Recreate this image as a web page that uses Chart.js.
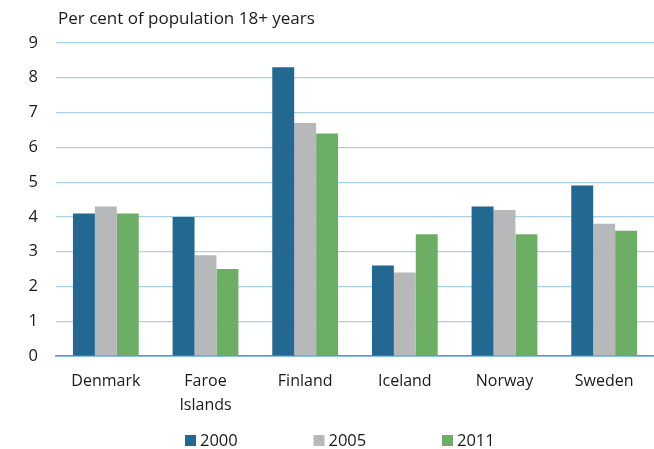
<!DOCTYPE html>
<html>
<head>
<meta charset="utf-8">
<script src="https://cdn.jsdelivr.net/npm/chart.js@4/dist/chart.umd.min.js"></script>
<style>
html,body{margin:0;padding:0;background:#fff;}
#wrap{width:654px;height:449px;position:relative;}
</style>
</head>
<body>
<div id="wrap"><canvas id="c"></canvas></div>
<script>
const categories = [['Denmark'], ['Faroe', 'Islands'], ['Finland'], ['Iceland'], ['Norway'], ['Sweden']];
const seriesNames = ['2000', '2005', '2011'];
const values2000 = [4.1, 4.0, 8.3, 2.6, 4.3, 4.9];
const values2005 = [4.3, 2.9, 6.7, 2.4, 4.2, 3.8];
const values2011 = [4.1, 2.5, 6.4, 3.5, 3.5, 3.6];
const yTicks = [0, 1, 2, 3, 4, 5, 6, 7, 8, 9];
const titleText = 'Per cent of population 18+ years';

const colors = ['#236890', '#b7b8ba', '#6cae64'];
const FONT = '"Open Sans", "Noto Sans", sans-serif';
const TEXT = '#1a1a1a';

const titlePlugin = {
  id: 'topTitle',
  afterDraw(chart) {
    const ctx = chart.ctx;
    ctx.save();
    ctx.font = '17px ' + FONT;
    ctx.fillStyle = TEXT;
    ctx.textBaseline = 'middle';
    ctx.textAlign = 'left';
    ctx.fillText(titleText, chart.chartArea.left + 2, 19);
    ctx.restore();
  }
};

const legendPlugin = {
  id: 'bottomLegend',
  afterDraw(chart) {
    const ctx = chart.ctx;
    ctx.save();
    ctx.font = '16.5px ' + FONT;
    ctx.textBaseline = 'middle';
    ctx.textAlign = 'left';
    const startX = 185, step = 128.5, boxY = 435, box = 11;
    chart.data.datasets.forEach((ds, i) => {
      const x = startX + i * step;
      ctx.fillStyle = ds.backgroundColor;
      ctx.fillRect(x, boxY, box, box);
      ctx.fillStyle = TEXT;
      ctx.fillText(ds.label, x + box + 4, boxY + box / 2 + 0.5);
    });
    ctx.restore();
  }
};

new Chart(document.getElementById('c'), {
  type: 'bar',
  data: {
    labels: categories,
    datasets: [
      { label: seriesNames[0], data: values2000, backgroundColor: colors[0] },
      { label: seriesNames[1], data: values2005, backgroundColor: colors[1] },
      { label: seriesNames[2], data: values2011, backgroundColor: colors[2] }
    ]
  },
  options: {
    responsive: true,
    maintainAspectRatio: false,
    animation: false,
    devicePixelRatio: 1,
    layout: { padding: { left: 0, right: 0, top: 43, bottom: 0 } },
    datasets: { bar: { categoryPercentage: 0.66, barPercentage: 1.0 } },
    plugins: {
      title: { display: false },
      tooltip: { enabled: false },
      legend: { display: false }
    },
    scales: {
      x: {
        afterFit(scale) { scale.height = 93; },
        grid: { display: false, drawTicks: false },
        border: { display: true, color: '#4a9cd2', width: 1.5 },
        ticks: { color: TEXT, font: { family: FONT, size: 16, lineHeight: 1.5 }, padding: 13, maxRotation: 0, autoSkip: false }
      },
      y: {
        min: 0,
        max: 9,
        afterFit(scale) { scale.width = 56; },
        afterBuildTicks(axis) { axis.ticks = yTicks.map(v => ({ value: v })); },
        grid: {
          color: (c) => c.tick && c.tick.value === 0 ? '#4a9cd2' : '#a9d0e8',
          lineWidth: 1.2,
          drawTicks: false
        },
        border: { display: false },
        ticks: { color: TEXT, font: { family: FONT, size: 16.5 }, padding: 18 }
      }
    }
  },
  plugins: [titlePlugin, legendPlugin]
});
</script>
</body>
</html>
